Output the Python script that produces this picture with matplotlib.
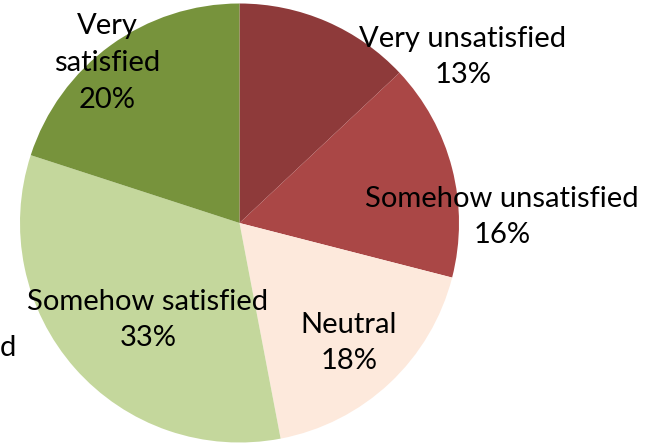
import matplotlib
matplotlib.use("Agg")
import matplotlib.pyplot as plt

categories = ["Very unsatisfied", "Somehow unsatisfied", "Neutral",
              "Somehow satisfied", "Very satisfied"]
shares = [13, 16, 18, 33, 20]
label_texts = ["Very unsatisfied\n13%", "Somehow unsatisfied\n16%", "Neutral\n18%",
               "Somehow satisfied\n33%", "Very\nsatisfied\n20%"]
colors = ["#8E3A3A", "#AA4746", "#FDE9DC", "#C4D79C", "#77933C"]

W, H = 649, 446
fig = plt.figure(figsize=(W / 100, H / 100), dpi=100)
ax = fig.add_axes([0, 0, 1, 1])

cx, cy, r = 239.5, H - 223, 219.5
ax.pie(shares, colors=colors, startangle=90, counterclock=False,
       center=(cx, cy), radius=r, frame=True,
       wedgeprops=dict(linewidth=0))
ax.set_xlim(0, W)
ax.set_ylim(0, H)
ax.set_aspect("equal")
ax.axis("off")

# label centres in pixel space (x, y from top)
label_pos = [(463, 57), (502, 217), (349, 343), (148, 320), (107, 63)]
font = dict(family=["Lato", "DejaVu Sans"], fontsize=21, color="black")
for txt, (x, y) in zip(label_texts, label_pos):
    ax.text(x, H - y, txt, ha="center", va="center", linespacing=1.52, **font)

# trailing piece of a label that runs off the left edge
ax.text(0, H - 348, "d", ha="left", va="center", **font)

fig.savefig("out.png", dpi=100)
